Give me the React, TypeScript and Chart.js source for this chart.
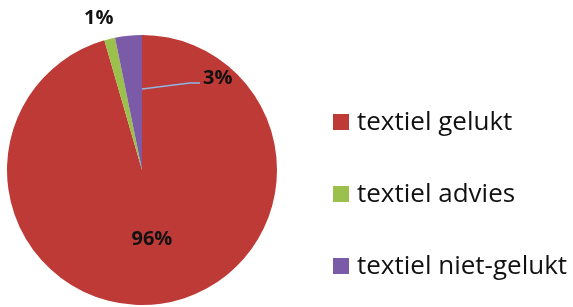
import React, { useEffect, useRef } from "react";
import { Chart, registerables } from "chart.js";

Chart.register(...registerables);

const categories = ["textiel gelukt", "textiel advies", "textiel niet-gelukt"];
const values = [95.5, 1.3, 3.2];
const colors = ["#BE3A36", "#9BC04C", "#7B5BA8"];

const FONT = "'Open Sans', 'Noto Sans', sans-serif";

const labelPlugin = {
  id: "customLabels",
  afterDatasetsDraw(chart: any) {
    const ctx = chart.ctx;
    const meta = chart.getDatasetMeta(0);
    const total = values.reduce((a, b) => a + b, 0);
    ctx.save();
    ctx.fillStyle = "#111";
    ctx.font = `bold 20px ${FONT}`;
    ctx.textAlign = "center";
    ctx.textBaseline = "middle";
    meta.data.forEach((arc: any, i: number) => {
      const { x, y, startAngle, endAngle, outerRadius } = arc.getProps(
        ["x", "y", "startAngle", "endAngle", "outerRadius"],
        true
      );
      const pct = Math.round((values[i] / total) * 100) + "%";
      const mid = (startAngle + endAngle) / 2;
      if (i === 0) {
        const r = outerRadius * 0.52;
        ctx.fillText(pct, x + Math.cos(mid) * r, y + Math.sin(mid) * r);
      } else if (i === 1) {
        const r = outerRadius * 1.18;
        ctx.fillText(pct, x + Math.cos(mid) * r - 5, y + Math.sin(mid) * r + 3);
      } else {
        const sx = x + Math.cos(endAngle) * outerRadius * 0.6;
        const sy = y + Math.sin(endAngle) * outerRadius * 0.6;
        const mx = x + outerRadius * 0.355;
        const my = y - outerRadius * 0.645;
        const ex = mx + outerRadius * 0.075;
        ctx.strokeStyle = "#8FB6E4";
        ctx.lineWidth = 1.5;
        ctx.beginPath();
        ctx.moveTo(sx, sy);
        ctx.lineTo(mx, my);
        ctx.lineTo(ex, my);
        ctx.stroke();
        ctx.textAlign = "left";
        ctx.fillText(pct, ex + 3, my - 5);
        ctx.textAlign = "center";
      }
    });
    ctx.restore();
  },
};

const legendPlugin = {
  id: "customLegend",
  afterDraw(chart: any) {
    const ctx = chart.ctx;
    ctx.save();
    const x0 = 333;
    const rows = [122, 194, 266];
    ctx.font = `26px ${FONT}`;
    ctx.textBaseline = "middle";
    ctx.textAlign = "left";
    categories.forEach((c, i) => {
      ctx.fillStyle = colors[i];
      ctx.fillRect(x0, rows[i] - 8, 16, 16);
      ctx.fillStyle = "#111";
      ctx.fillText(c, x0 + 24, rows[i] + 1);
    });
    ctx.restore();
  },
};

export default function App() {
  const ref = useRef<HTMLCanvasElement | null>(null);
  useEffect(() => {
    document.body.style.margin = "0";
    const chart = new Chart(ref.current as HTMLCanvasElement, {
      type: "pie",
      data: {
        labels: categories,
        datasets: [
          {
            data: values,
            backgroundColor: colors,
            borderWidth: 0,
          },
        ],
      },
      options: {
        animation: false,
        responsive: false,
        layout: { padding: { top: 35, bottom: 2, left: 7, right: 296 } },
        plugins: {
          legend: { display: false },
          tooltip: { enabled: false },
        },
      },
      plugins: [labelPlugin, legendPlugin],
    });
    return () => chart.destroy();
  }, []);
  return (
    <div style={{ width: 573, height: 307 }}>
      <canvas ref={ref} width={573} height={307} style={{ display: "block" }} />
    </div>
  );
}
